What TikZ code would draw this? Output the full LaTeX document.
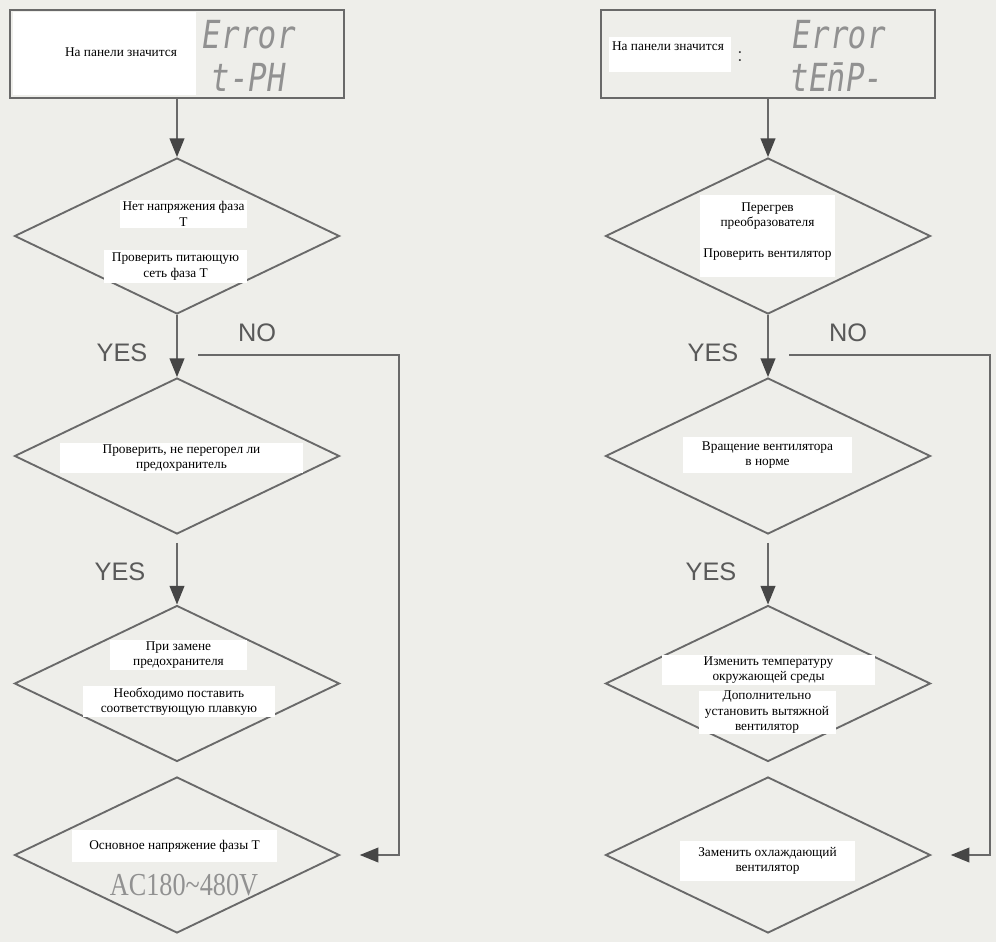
\documentclass[tikz,border=0pt]{standalone}
\usepackage{fontspec}
\setmainfont{Liberation Serif}
\newfontfamily\sansfnt{Liberation Sans}
\newfontfamily\lcdfnt[FakeSlant=0.18]{DejaVu Sans Mono}
\usetikzlibrary{shapes.geometric,arrows.meta,positioning}
\definecolor{paper}{RGB}{238,238,234}
\definecolor{ink}{RGB}{105,105,105}
\definecolor{inkdark}{RGB}{70,70,70}
\definecolor{lcd}{RGB}{145,145,145}
\tikzset{
  flow/.style={draw=ink, line width=1.4pt, -{Triangle[length=14pt,width=11pt,color=inkdark]}},
  panel/.style={draw=ink, line width=1.4pt, minimum width=250.5pt, minimum height=66pt},
  decision/.style={diamond, draw=ink, line width=1.4pt, minimum width=243.75pt, minimum height=117pt, inner sep=0pt},
  note/.style={fill=white, align=center, inner sep=0pt, font=\fontsize{10}{11.6}\selectfont},
  yesno/.style={text=black!65, font=\sansfnt\fontsize{19}{19}\selectfont},
  lcdtext/.style={text=lcd, font=\lcdfnt\fontsize{29}{29}\selectfont}
}

\begin{document}
\begin{tikzpicture}[x=0.75pt, y=-0.75pt]
  \fill[paper] (0,0) rectangle (996,942);
  \useasboundingbox (0,0) rectangle (996,942);
  % both columns share the same skeleton
  \foreach \col/\x in {l/177, r/768}{
    \node[panel] (\col panel) at (\x,54) {};
    \node[decision] (\col d1) at (\x,236) {};
    \node[decision] (\col d2) at (\x,456) {};
    \node[decision] (\col d3) at (\x,683.5) {};
    \node[decision] (\col d4) at (\x,855) {};
    \draw[flow] (\col panel) -- (\col d1);
    \draw[flow] (\col d1) -- (\col d2);
    \draw[flow, shorten <=6pt] (\col d2) -- (\col d3);
    \coordinate (\col no) at (\x+21,355);
    \coordinate (\col rail) at (\x+222,355);
    \draw[flow, shorten >=14.5pt] (\col no) -- (\col rail) |- (\col d4.east);
    \node[yesno] (\col yes1) at (\x-55,353) {YES};
    \node[yesno] (\col no1) at (\x+80,333) {NO};
    \node[yesno] (\col yes2) at (\x-57,572) {YES};
  }
  % left column
  \node[fill=white, minimum width=137.25pt, minimum height=62.25pt] (lmask) at (104,54) {};
  \node[note] (ltitle) at (121,52) {На панели значится};
  \node[lcdtext] (lerr) at (247.5,35) {\scalebox{0.8}[1]{Error}};
  \node[lcdtext] (lcode) at (247,77) {\scalebox{0.8}[1]{t-PH}};
  \node[note, minimum width=95.25pt, minimum height=21pt] (ld1a) at (183.5,214) {Нет напряжения фаза\\Т};
  \node[note, minimum width=107.25pt, minimum height=24.75pt] (ld1b) at (175.5,266.5) {Проверить питающую\\сеть фаза Т};
  \node[note, minimum width=182.25pt, minimum height=22.5pt] (ld2a) at (181.5,458) {Проверить, не перегорел ли\\предохранитель};
  \node[note, minimum width=102.75pt, minimum height=22.5pt] (ld3a) at (178.5,655) {При замене\\предохранителя};
  \node[note, minimum width=144pt, minimum height=23.25pt] (ld3b) at (179,701.5) {Необходимо поставить\\соответствующую плавкую};
  \node[note, minimum width=153.75pt, minimum height=24pt] (ld4a) at (174.5,846) {Основное напряжение фазы Т};
  \node[text=lcd, font=\fontsize{24}{24}\selectfont] (ld4b) at (184,885) {\scalebox{0.82}[1]{AC180\textasciitilde480V}};
  % right column
  \node[fill=white, minimum width=91.5pt, minimum height=26.25pt] (rmask) at (670,54.5) {};
  \node[note] (rtitle) at (668,46) {На панели значится};
  \node[text=inkdark, font=\sansfnt\fontsize{14}{14}\selectfont] (rcolon) at (740,57) {:};
  \node[lcdtext] (rerr) at (837.5,35) {\scalebox{0.8}[1]{Error}};
  \node[lcdtext] (rcode) at (835,77) {\scalebox{0.8}[1]{tEn̄P-}};
  \node[note, minimum width=101.25pt, minimum height=61.5pt] (rd1a) at (767.5,236) {Перегрев\\преобразователя\\[11.5pt]Проверить вентилятор\\[-3pt]\mbox{}};
  \node[note, minimum width=126.75pt, minimum height=27pt] (rd2a) at (767.5,455) {Вращение вентилятора\\в норме};
  \node[note, minimum width=159.75pt, minimum height=22.5pt] (rd3a) at (768.5,670) {Изменить температуру\\окружающей среды};
  \node[note, minimum width=102.75pt, minimum height=30.75pt] (rd3b) at (767,712.5) {Дополнительно\\установить вытяжной\\вентилятор};
  \node[note, minimum width=131.25pt, minimum height=30pt] (rd4a) at (767.5,861) {Заменить охлаждающий\\вентилятор};
\end{tikzpicture}
\end{document}
